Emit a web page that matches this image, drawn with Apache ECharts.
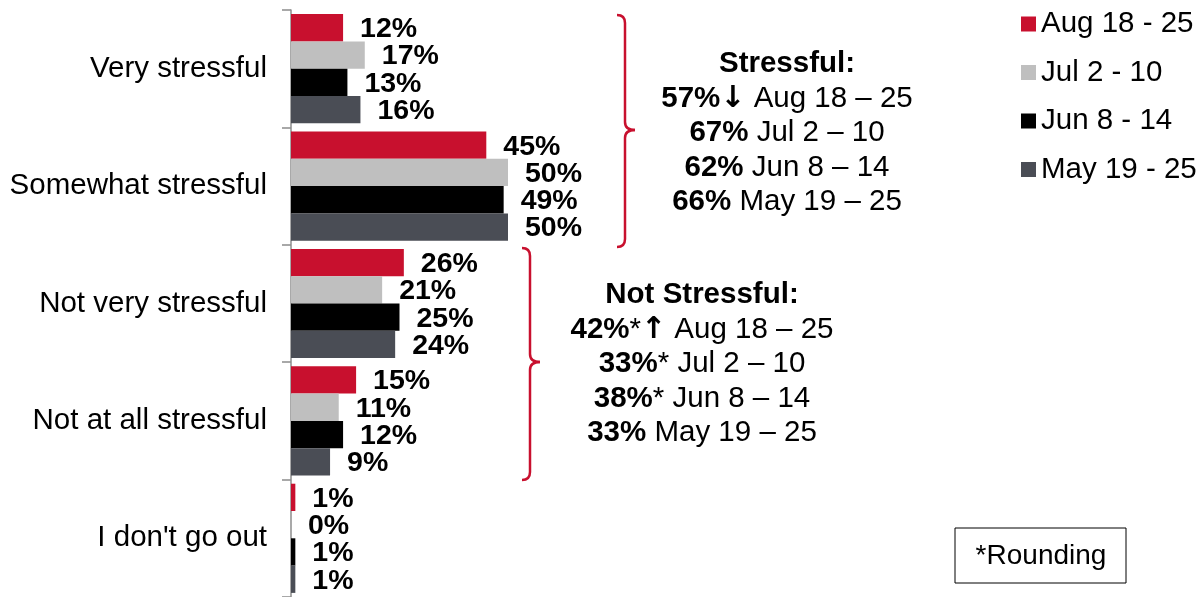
<!DOCTYPE html>
<html>
<head>
<meta charset="utf-8">
<script src="https://cdn.jsdelivr.net/npm/echarts@6/dist/echarts.min.js"></script>
<style>
  html, body { margin: 0; padding: 0; background: #fff; }
  #chart { width: 1200px; height: 597px; }
</style>
</head>
<body>
<div id="chart"></div>
<script>
// categories (top to bottom)
const categories = ['Very stressful', 'Somewhat stressful', 'Not very stressful', 'Not at all stressful', "I don't go out"];

// survey waves
const seriesNames = ['Aug 18 - 25', 'Jul 2 - 10', 'Jun 8 - 14', 'May 19 - 25'];
const seriesColors = ['#C8102E', '#BFBFBF', '#000000', '#4A4D55'];

// percentages per wave
const aug = [12, 45, 26, 15, 1];
const jul = [17, 50, 21, 11, 0];
const jun = [13, 49, 25, 12, 1];
const may = [16, 50, 24, 9, 1];
const values = [aug, jul, jun, may];

const font = 'Liberation Sans, Arial, sans-serif';
const red = '#C8102E';

// curly brace opening to the left, tip pointing right
function brace(x0, xv, xt, yTop, yMid, yBot) {
    const st = { fill: 'none', stroke: red, lineWidth: 2.5 };
    const r = 8;
    return [
        { type: 'bezierCurve', shape: { x1: x0, y1: yTop, cpx1: xv, cpy1: yTop, x2: xv, y2: yTop + r }, style: st },
        { type: 'line', shape: { x1: xv, y1: yTop + r, x2: xv, y2: yMid - r }, style: st },
        { type: 'bezierCurve', shape: { x1: xv, y1: yMid - r, cpx1: xv, cpy1: yMid, x2: xt, y2: yMid }, style: st },
        { type: 'bezierCurve', shape: { x1: xt, y1: yMid, cpx1: xv, cpy1: yMid, x2: xv, y2: yMid + r }, style: st },
        { type: 'line', shape: { x1: xv, y1: yMid + r, x2: xv, y2: yBot - r }, style: st },
        { type: 'bezierCurve', shape: { x1: xv, y1: yBot - r, cpx1: xv, cpy1: yBot, x2: x0, y2: yBot }, style: st }
    ];
}

const fs = 29.5;
const richStyle = {
    b: { fontWeight: 'bold', fontSize: fs, lineHeight: 34.5, fontFamily: font, fill: '#000' },
    n: { fontSize: fs, lineHeight: 34.5, fontFamily: font, fill: '#000' },
    a: { fontWeight: 'bold', fontSize: 30, lineHeight: 34.5, fontFamily: 'DejaVu Sans', fill: '#000' }
};

const chart = echarts.init(document.getElementById('chart'));

chart.setOption({
    animation: false,
    textStyle: { fontFamily: font },
    grid: { left: 291, top: 10, bottom: 0, width: 434, containLabel: false },
    xAxis: { type: 'value', min: 0, max: 100, show: false },
    yAxis: {
        type: 'category',
        inverse: true,
        data: categories,
        axisLine: { lineStyle: { color: '#8C8C8C', width: 1.5 } },
        axisTick: { show: true, length: 9, lineStyle: { color: '#8C8C8C', width: 1.5 } },
        axisLabel: { margin: 24, fontSize: fs, color: '#000', fontFamily: font }
    },
    legend: {
        orient: 'vertical',
        left: 1021,
        top: 7,
        padding: 0,
        itemWidth: 15,
        itemHeight: 15,
        itemGap: 14.5,
        icon: 'rect',
        textStyle: { fontSize: fs, color: '#000', fontFamily: font, lineHeight: 34 },
        data: seriesNames
    },
    series: values.map((v, i) => ({
        name: seriesNames[i],
        type: 'bar',
        data: v,
        barGap: '0%',
        barCategoryGap: '7%',
        itemStyle: { color: seriesColors[i] },
        label: {
            show: true,
            position: 'right',
            distance: 17,
            offset: [0, 1.5],
            formatter: '{c}%',
            fontSize: 28.5,
            fontWeight: 'bold',
            color: '#000',
            fontFamily: font
        }
    })),
    graphic: [
        ...brace(617, 625, 635, 15, 130, 247),
        ...brace(522, 530, 540, 248, 362, 480),
        {
            type: 'text',
            x: 787,
            y: 47,
            style: {
                text: '{b|Stressful:}\n{b|57%}{a|↓} {n|Aug 18 – 25}\n{b|67%} {n|Jul 2 – 10}\n{b|62%} {n|Jun 8 – 14}\n{b|66%} {n|May 19 – 25}',
                align: 'center',
                verticalAlign: 'top',
                fontFamily: font,
                fontSize: fs,
                rich: richStyle
            }
        },
        {
            type: 'text',
            x: 702,
            y: 278,
            style: {
                text: '{b|Not Stressful:}\n{b|42%}{n|*}{a|↑} {n|Aug 18 – 25}\n{b|33%}{n|*} {n|Jul 2 – 10}\n{b|38%}{n|*} {n|Jun 8 – 14}\n{b|33%} {n|May 19 – 25}',
                align: 'center',
                verticalAlign: 'top',
                fontFamily: font,
                fontSize: fs,
                rich: richStyle
            }
        },
        // rounding note
        {
            type: 'rect',
            shape: { x: 955, y: 528, width: 171, height: 55 },
            style: { fill: '#fff', stroke: '#000', lineWidth: 1 }
        },
        {
            type: 'text',
            x: 1041,
            y: 556,
            style: {
                text: '*Rounding',
                align: 'center',
                verticalAlign: 'middle',
                fontSize: 28,
                fontFamily: font,
                fill: '#000'
            }
        }
    ]
});
</script>
</body>
</html>
